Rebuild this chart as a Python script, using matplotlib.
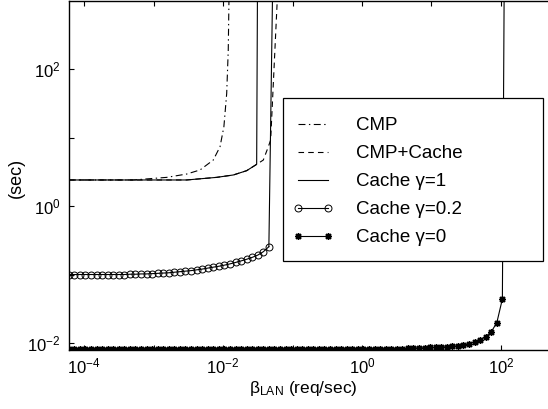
import numpy as np
import matplotlib
matplotlib.use("Agg")
import matplotlib.pyplot as plt
from matplotlib.ticker import FixedLocator, FuncFormatter, NullLocator
from matplotlib.patches import Rectangle

plt.rcParams['font.family'] = ['Liberation Sans', 'DejaVu Sans']
plt.rcParams['mathtext.fontset'] = 'custom'
plt.rcParams['mathtext.rm'] = 'Liberation Sans'
plt.rcParams['mathtext.it'] = 'Liberation Sans:italic'
plt.rcParams['mathtext.bf'] = 'Liberation Sans:bold'
plt.rcParams['lines.scale_dashes'] = False

# ---------------- data ----------------
# CMP (dash-dot)
cmp_x = [6.08e-5, 1e-4, 5.1e-4, 1.55e-3, 3.0e-3, 4.67e-3, 7.24e-3, 9.06e-3, 1.03e-2, 1.13e-2, 1.19e-2, 1.245e-2]
cmp_y = [2.40, 2.40, 2.40, 2.62, 2.93, 3.36, 4.69, 7.34, 14.4, 44.0, 189.0, 5000.0]
# CMP+Cache (dashed)
cmpc_x = [6.08e-5, 1e-4, 1e-3, 3.0e-3, 8.1e-3, 1.41e-2, 2.19e-2, 3.05e-2, 3.80e-2, 4.49e-2, 4.85e-2, 6.71e-2]
cmpc_y = [2.40, 2.40, 2.40, 2.40, 2.62, 2.84, 3.28, 4.06, 4.69, 7.34, 9.2, 1e4]
# Cache gamma=1 (solid)
c1_x = [6.08e-5, 1e-4, 1e-3, 3.0e-3, 8.1e-3, 1.41e-2, 2.19e-2, 3.05e-2, 3.16e-2]
c1_y = [2.40, 2.40, 2.40, 2.40, 2.62, 2.84, 3.28, 4.06, 1e4]
# sampling grid used by the marked series
x_grid = np.logspace(-4.22, 2.02, 79)
# Cache gamma=0.2 (circles), first 37 samples, then off-scale
c02_y = [0.100] * 11 + [0.101, 0.101, 0.102, 0.102, 0.103, 0.104, 0.105, 0.106, 0.108,
                        0.110, 0.112, 0.114, 0.117, 0.120, 0.124, 0.128, 0.132, 0.137,
                        0.143, 0.150, 0.158, 0.167, 0.178, 0.192, 0.215, 0.255]
c02_tail_x = [x_grid[36], x_grid[37]]
c02_tail_y = [0.255, 1e5]
# Cache gamma=0 (asterisks), 79 samples, then off-scale
c0_y = [0.0083] * 61 + [0.0084, 0.0084, 0.0085, 0.0085, 0.0086, 0.0086, 0.0087, 0.0088,
                        0.0089, 0.0091, 0.0094, 0.0098, 0.0104, 0.0112, 0.0124, 0.0146,
                        0.0198, 0.044]
c0_tail_x = [x_grid[78], 113.8]
c0_tail_y = [0.044, 1e5]

labels = ['CMP', 'CMP+Cache', 'Cache \u03b3=1', 'Cache \u03b3=0.2', 'Cache \u03b3=0']
xticks = [1e-4, 1e-3, 1e-2, 1e-1, 1e0, 1e1, 1e2]
yticks = [1e-2, 1e-1, 1e0, 1e1, 1e2]

# ---------------- figure ----------------
W, H = 548, 409
fig = plt.figure(figsize=(W / 100, H / 100), dpi=100)
ax_left, ax_bottom, ax_top = 69, 350, 1
ax_w = 500.1
ax = fig.add_axes([ax_left / W, (H - ax_bottom) / H, ax_w / W, (ax_bottom - ax_top) / H])
ax.set_xscale('log')
ax.set_yscale('log')

lw = 0.8
h0, = ax.plot(cmp_x, cmp_y, color='k', lw=lw, dashes=(5, 2.5, 1, 2.5), label=labels[0])
h1, = ax.plot(cmpc_x, cmpc_y, color='k', lw=lw, dashes=(4, 3), label=labels[1])
h2, = ax.plot(c1_x, c1_y, color='k', lw=lw, label=labels[2])
h3, = ax.plot(x_grid[:37], c02_y, color='k', lw=lw, marker='o', ms=5.0, mfc='none', mew=0.7,
              label=labels[3])
ax.plot(c02_tail_x, c02_tail_y, color='k', lw=lw)
h4, = ax.plot(x_grid, c0_y, color='k', lw=lw, marker=(8, 2, 0), ms=5.0, mew=1.0,
              label=labels[4])
ax.plot(c0_tail_x, c0_tail_y, color='k', lw=lw)

ax.set_xlim(10 ** -4.216, 10 ** 2.98)
ax.set_ylim(10 ** -2.102, 10 ** 2.993)

def fmt(v, pos):
    e = int(round(np.log10(v)))
    if e % 2:
        return ''
    return r'$10^{%d}$' % e

ax.xaxis.set_major_locator(FixedLocator(xticks))
ax.yaxis.set_major_locator(FixedLocator(yticks))
ax.xaxis.set_major_formatter(FuncFormatter(fmt))
ax.yaxis.set_major_formatter(FuncFormatter(fmt))
ax.xaxis.set_minor_locator(NullLocator())
ax.yaxis.set_minor_locator(NullLocator())
ax.tick_params(which='major', direction='in', length=3.5, width=0.8,
               top=True, right=True, labelsize=12)
ax.tick_params(axis='x', pad=5)
ax.tick_params(axis='y', pad=6)
for s in ax.spines.values():
    s.set_linewidth(1.0)

fig.text(303 / W, 1 - 388 / H, '\u03b2$_{\\mathrm{LAN}}$ (req/sec)', ha='center', va='center',
         fontsize=12.5)
fig.text(16 / W, 1 - 178 / H, '(sec)', rotation=90, ha='center', va='center', fontsize=13)

# legend box (MATLAB style, wide frame)
fig.add_artist(Rectangle((283 / W, 1 - 261 / H), (543 - 283) / W, (261 - 98) / H,
                         transform=fig.transFigure, facecolor='white', edgecolor='k',
                         lw=0.9, zorder=4))
leg = fig.legend(handles=[h0, h1, h2, h3, h4], loc='upper left',
                 bbox_to_anchor=(292 / W, 1 - 117 / H),
                 bbox_transform=fig.transFigure, borderaxespad=0, borderpad=0,
                 fontsize=13.5, numpoints=2, handlelength=2.2, handletextpad=1.2,
                 labelspacing=0.58, frameon=False)
leg.set_zorder(5)

fig.savefig('out.png', dpi=100)
